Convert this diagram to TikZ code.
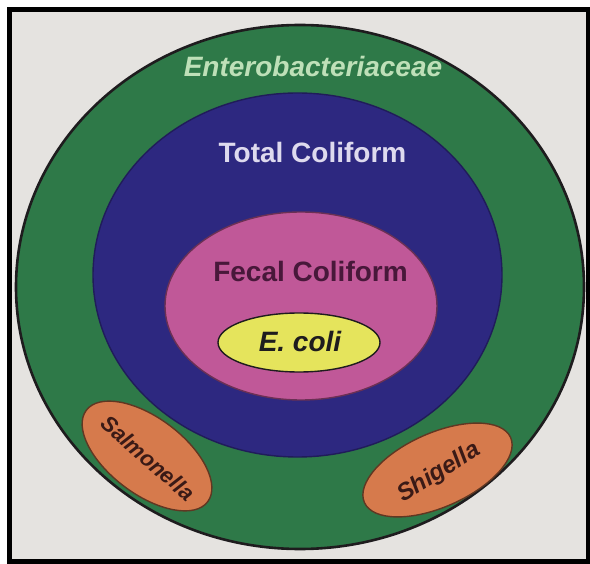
\documentclass[tikz,border=0pt]{standalone}
\usepackage{fontspec}
\setmainfont{Liberation Sans}
\usetikzlibrary{shapes.geometric}
\definecolor{bg}{RGB}{229,227,224}
\definecolor{grn}{RGB}{46,121,72}
\definecolor{blu}{RGB}{45,40,128}
\definecolor{pnk}{RGB}{192,88,152}
\definecolor{yel}{RGB}{229,228,92}
\definecolor{org}{RGB}{214,122,76}
\definecolor{edge}{RGB}{30,28,30}
\definecolor{lgrn}{RGB}{190,224,184}
\definecolor{lvio}{RGB}{222,218,238}
\definecolor{dpur}{RGB}{72,24,58}
\definecolor{dbrn}{RGB}{58,26,22}
\begin{document}
\begin{tikzpicture}[x=1pt,y=-1pt,
  blob/.style={ellipse, inner sep=0pt, outer sep=0pt, draw=edge, line width=1.4pt},
  lbl/.style={font=\fontsize{28}{30}\selectfont\bfseries, anchor=base, inner sep=0pt},
  small/.style={font=\fontsize{#1}{#1}\selectfont\bfseries\itshape, inner sep=0pt, text=dbrn}]
\useasboundingbox (0,0) rectangle (590,564);
\fill[white] (0,0) rectangle (590,564);
\fill[black] (7,7) rectangle (590,564);
\fill[bg] (12,12) rectangle (586,559);
% nested groups
\node[blob, fill=grn, line width=2.6pt, minimum width=568pt, minimum height=524pt] (ent) at (300,287) {};
\node[blob, fill=blu, draw=blu!70!black, minimum width=409pt, minimum height=364pt] (tot) at (297.5,275) {};
\node[blob, fill=pnk, draw=pnk!55!black, minimum width=272pt, minimum height=188pt] (fec) at (301,306) {};
\node[blob, fill=yel, minimum width=162pt, minimum height=59pt] (eco) at (299,342.5) {};
\node[blob, fill=org, draw=org!45!black, minimum width=152pt, minimum height=76pt, rotate=-37] (sal) at (147,456) {};
\node[blob, fill=org, draw=org!45!black, minimum width=160pt, minimum height=74pt, rotate=24] (shi) at (437.5,470) {};
% labels
\node[lbl, text=lgrn] (tEnt) at (313,77) {\itshape Enterobacteriaceae};
\node[lbl, text=lvio] (tTot) at (312.5,163) {Total Coliform};
\node[lbl, text=dpur] (tFec) at (310.5,282) {Fecal Coliform};
\node[lbl, text=edge] (tEco) at (300,352) {\itshape E. coli};
\node[small=22, rotate=-41] (tSal) at (148,458) {Salmonella};
\node[small=24, rotate=32] (tShi) at (439,473) {Shigella};
\end{tikzpicture}
\end{document}
